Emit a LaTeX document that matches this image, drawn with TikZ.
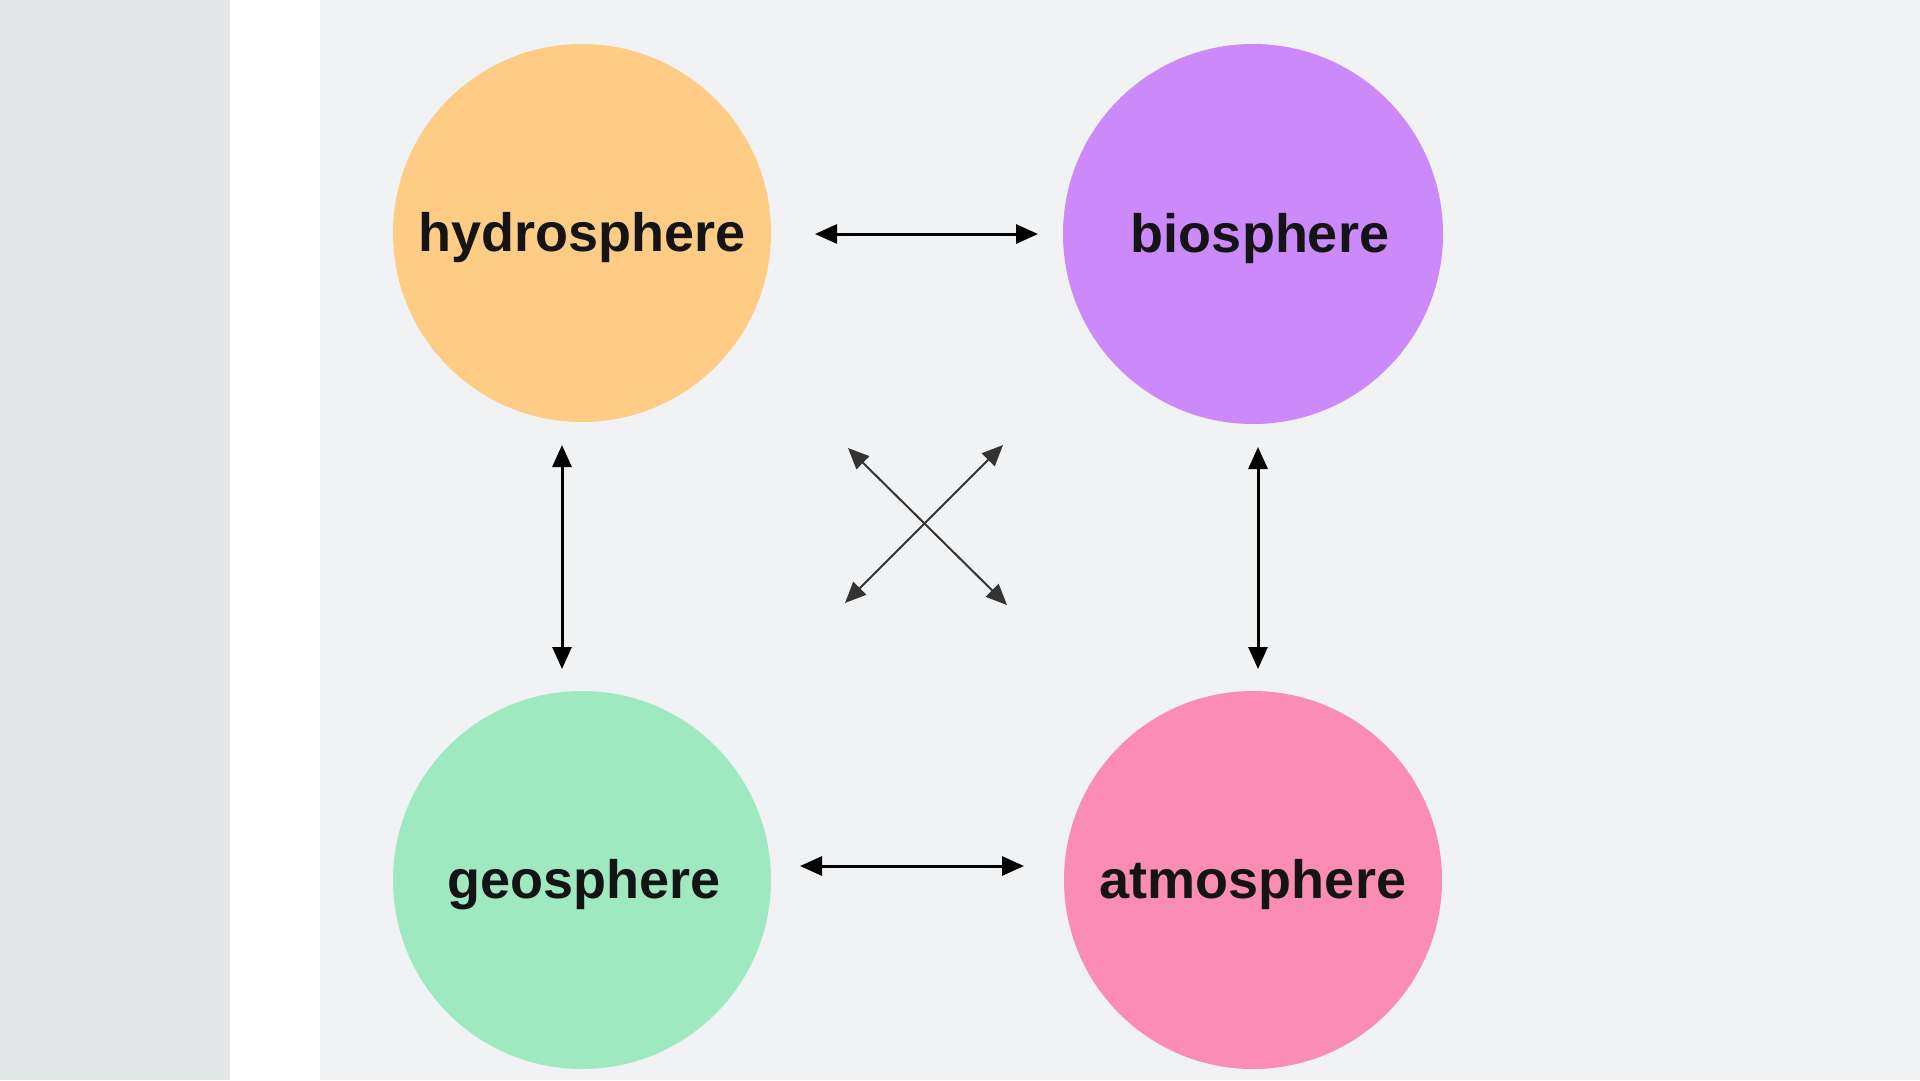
\documentclass[tikz,border=0pt]{standalone}
\usepackage{fontspec}
\setmainfont{Liberation Sans}
\usetikzlibrary{arrows.meta}
\definecolor{stripL}{HTML}{E2E6E7}
\definecolor{pagebg}{HTML}{F0F2F4}
\definecolor{hydroC}{HTML}{FECC85}
\definecolor{bioC}{HTML}{CB89F9}
\definecolor{geoC}{HTML}{9FE9C0}
\definecolor{atmoC}{HTML}{FB8DB5}
\newcommand{\sphlabel}[1]{\raisebox{-5pt}[\height][\depth]{#1}}
\begin{document}
\begin{tikzpicture}[x=1pt,y=-1pt,
  sphere/.style={circle, minimum size=378pt, inner sep=0pt,
    font=\fontsize{54}{60}\selectfont\bfseries, text=black!92},
  link/.style={{Triangle[length=22pt,width=19pt]}-{Triangle[length=22pt,width=19pt]},
    line width=3pt, black},
  crosslink/.style={{Triangle[length=21pt,width=18pt]}-{Triangle[length=21pt,width=18pt]},
    line width=2pt, black!80}]
\useasboundingbox (0,0) rectangle (1920,1080);
% backgrounds
\fill[stripL] (0,0) rectangle (230,1080);
\fill[white] (230,0) rectangle (320,1080);
\fill[pagebg] (320,0) rectangle (1920,1080);
% spheres
\node[sphere, fill=hydroC] (hydro) at (582,233) {\sphlabel{hydrosphere}};
\node[sphere, fill=bioC, minimum size=380pt] (bio) at (1253,234) {\sphlabel{\hspace*{14pt}biosphere}};
\node[sphere, fill=geoC] (geo) at (582,880) {\sphlabel{\hspace*{4pt}geosphere}};
\node[sphere, fill=atmoC] (atmo) at (1253,880) {\sphlabel{atmosphere}};
% arrow end points
\coordinate (hbA) at (815,234);
\coordinate (hbB) at (1038,234);
\coordinate (gaA) at (800,866);
\coordinate (gaB) at (1024,866);
\coordinate (hgA) at (562,445);
\coordinate (hgB) at (562,669);
\coordinate (baA) at (1258,447);
\coordinate (baB) at (1258,669);
\coordinate (x1A) at (848,448);
\coordinate (x1B) at (1007,605);
\coordinate (x2A) at (1003,445);
\coordinate (x2B) at (845,603);
% connectors
\draw[link] (hbA) -- (hbB);
\draw[link] (gaA) -- (gaB);
\draw[link] (hgA) -- (hgB);
\draw[link] (baA) -- (baB);
\draw[crosslink] (x1A) -- (x1B);
\draw[crosslink] (x2A) -- (x2B);
\end{tikzpicture}
\end{document}
